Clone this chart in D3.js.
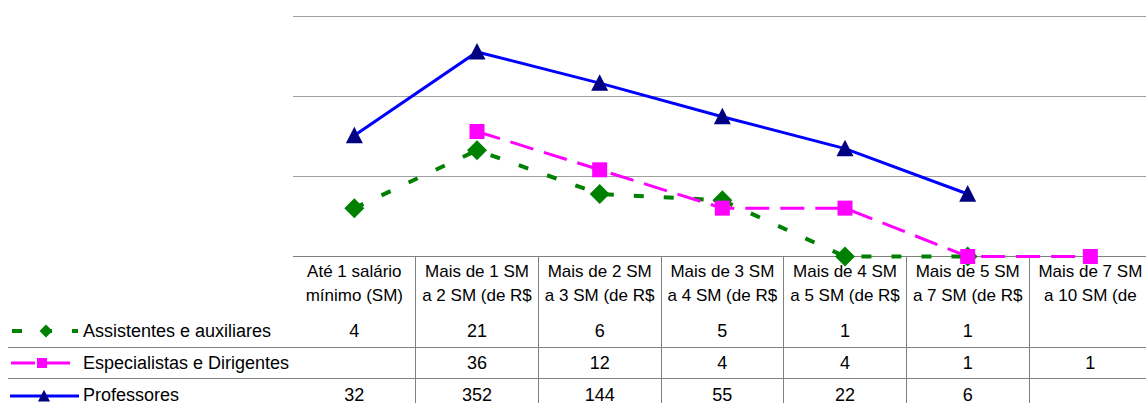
<!DOCTYPE html>
<html>
<head>
<meta charset="utf-8">
<script src="https://cdn.jsdelivr.net/npm/d3@7"></script>
<style>
  body { margin: 0; background: #fff; }
  svg { display: block; font-family: "Liberation Sans", Arial, sans-serif; }
</style>
</head>
<body>
<svg id="chart" width="1146" height="403"></svg>
<script>
// Salary bands (header of the data table, two lines each)
const categories = [
  ["Até 1 salário", "mínimo (SM)"],
  ["Mais de 1 SM", "a 2 SM (de R$"],
  ["Mais de 2 SM", "a 3 SM (de R$"],
  ["Mais de 3 SM", "a 4 SM (de R$"],
  ["Mais de 4 SM", "a 5 SM (de R$"],
  ["Mais de 5 SM", "a 7 SM (de R$"],
  ["Mais de 7 SM", "a 10 SM (de"]
];
const seriesNames = ["Assistentes e auxiliares", "Especialistas e Dirigentes", "Professores"];
const assistentes   = [4, 21, 6, 5, 1, 1, null];
const especialistas = [null, 36, 12, 4, 4, 1, 1];
const professores   = [32, 352, 144, 55, 22, 6, null];
const gridValues = [1, 10, 100, 1000];

const svg = d3.select("#chart");
const W = 1146, H = 403;
const plotLeft = 293, colW = 122.67;
const plotTop = 15.5, plotBottom = 256.5;

const x = d3.scaleBand()
  .domain(d3.range(categories.length))
  .range([plotLeft, plotLeft + colW * categories.length])
  .padding(0);
const cx = i => x(i) + x.bandwidth() / 2;

const y = d3.scaleLog().domain([1, 1000]).range([plotBottom, plotTop]);

// horizontal gridlines (log decades), no labels
const grid = svg.append("g")
  .attr("transform", `translate(${plotLeft},0)`)
  .call(d3.axisLeft(y).tickValues(gridValues.slice(1)).tickSize(-(W - plotLeft)).tickFormat(""));
grid.select(".domain").remove();
grid.selectAll(".tick line").attr("stroke", "#a0a0a0").attr("stroke-width", 1).attr("shape-rendering", "crispEdges");

// data table lines
const lineColor = "#808080";
const rowLines = [347.5, 378.5];
const table = svg.append("g").attr("shape-rendering", "crispEdges").attr("stroke", lineColor).attr("stroke-width", 1);
table.append("line").attr("x1", plotLeft).attr("x2", W).attr("y1", plotBottom).attr("y2", plotBottom);
rowLines.forEach(ry => table.append("line").attr("x1", 8).attr("x2", W).attr("y1", ry).attr("y2", ry));
d3.range(1, categories.length).forEach(i =>
  table.append("line").attr("x1", x(i)).attr("x2", x(i)).attr("y1", plotBottom).attr("y2", H));

// header labels
const header = svg.append("g").attr("font-size", 17).attr("fill", "#000").attr("text-anchor", "middle");
categories.forEach((lines, i) => {
  lines.forEach((t, k) => header.append("text").attr("x", cx(i)).attr("y", 277 + k * 24).text(t));
});

const series = [
  { name: seriesNames[0], values: assistentes, color: "#008000", width: 4, dash: "10,20", marker: "diamond", mColor: "#008000" },
  { name: seriesNames[1], values: especialistas, color: "#ff00ff", width: 3, dash: "24,11", marker: "square", mColor: "#ff00ff" },
  { name: seriesNames[2], values: professores, color: "#0000ff", width: 3, dash: null, marker: "triangle", mColor: "#000080" }
];
const rowBaselines = [337, 369, 401];
const rowCenters = [331, 363, 396];

function markerPath(type, s) {
  if (type === "diamond") return `M0,${-s} L${s},0 L0,${s} L${-s},0Z`;
  if (type === "square") return `M${-s},${-s} H${s} V${s} H${-s}Z`;
  return `M0,${-s * 1.05} L${s},${s * 0.9} L${-s},${s * 0.9}Z`;
}
const markerSize = { diamond: 10, square: 7.5, triangle: 8.5 };
const legendMarkerSize = { diamond: 6.5, square: 5, triangle: 6 };

const line = d3.line()
  .defined(d => d.v != null)
  .x(d => cx(d.i))
  .y(d => y(d.v));

series.forEach((s, si) => {
  const pts = s.values.map((v, i) => ({ i, v }));
  const g = svg.append("g");
  g.append("path")
    .datum(pts)
    .attr("d", line)
    .attr("fill", "none")
    .attr("stroke", s.color)
    .attr("stroke-width", s.width)
    .attr("stroke-dasharray", s.dash);
  g.selectAll(".m")
    .data(pts.filter(d => d.v != null))
    .join("path")
    .attr("transform", d => `translate(${cx(d.i)},${y(d.v)})`)
    .attr("d", markerPath(s.marker, markerSize[s.marker]))
    .attr("fill", s.mColor);

  // table row: legend key, name, values
  const ry = rowCenters[si];
  const lx = [[12, 78], [11, 72], [10, 79]][si];
  svg.append("line")
    .attr("x1", lx[0]).attr("x2", lx[1]).attr("y1", ry).attr("y2", ry)
    .attr("stroke", s.color).attr("stroke-width", s.width)
    .attr("stroke-dasharray", s.dash);
  svg.append("path")
    .attr("transform", `translate(${[46, 42, 44][si]},${ry})`)
    .attr("d", markerPath(s.marker, legendMarkerSize[s.marker]))
    .attr("fill", s.mColor);
  svg.append("text")
    .attr("x", 83).attr("y", rowBaselines[si])
    .attr("font-size", 18).attr("fill", "#000")
    .text(s.name);
  svg.append("g").attr("font-size", 18).attr("text-anchor", "middle").attr("fill", "#000")
    .selectAll("text")
    .data(pts.filter(d => d.v != null))
    .join("text")
    .attr("x", d => cx(d.i))
    .attr("y", rowBaselines[si])
    .text(d => d.v);
});
</script>
</body>
</html>
